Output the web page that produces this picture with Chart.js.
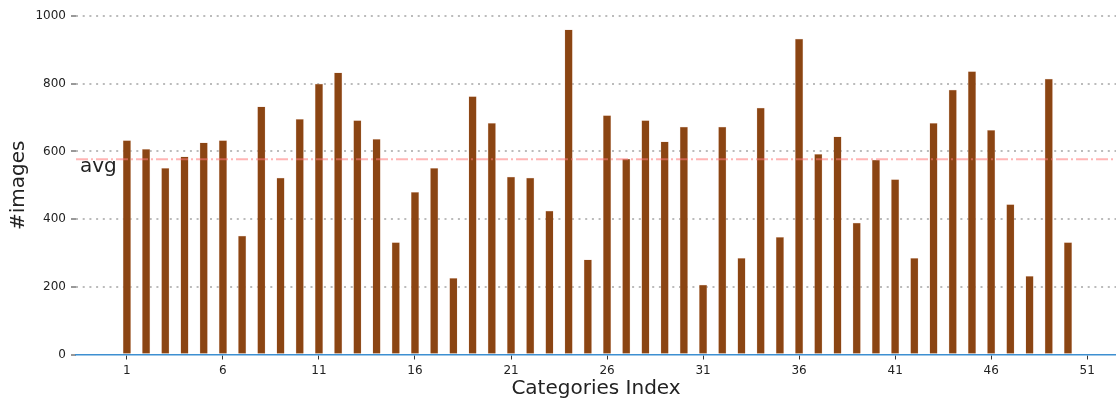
<!DOCTYPE html>
<html>
<head>
<meta charset="utf-8">
<script src="https://cdn.jsdelivr.net/npm/chart.js@4/dist/chart.umd.min.js"></script>
<style>
  html, body { margin: 0; padding: 0; background: #fff; }
  #wrap { width: 1116px; height: 401px; }
</style>
</head>
<body>
<div id="wrap"><canvas id="c" width="1116" height="401"></canvas></div>
<script>
const categories = [1,2,3,4,5,6,7,8,9,10,11,12,13,14,15,16,17,18,19,20,21,22,23,24,25,26,27,28,29,30,31,32,33,34,35,36,37,38,39,40,41,42,43,44,45,46,47,48,49,50];
const imageCounts = [632,606,550,584,625,632,350,732,521,695,799,832,691,636,331,479,550,225,762,683,524,521,424,959,280,706,577,691,628,672,205,672,284,728,346,932,591,643,388,574,517,284,683,781,836,662,443,231,814,331];
const xTickLabels = [1,6,11,16,21,26,31,36,41,46,51];
const yTickValues = [0,200,400,600,800,1000];
const xMin = -1.65, xMax = 52.5;

const avg = imageCounts.reduce((a, b) => a + b, 0) / imageCounts.length;

const FONT = "'DejaVu Sans', sans-serif";

const avgLabelPlugin = {
  id: 'avgLabel',
  afterDatasetsDraw(chart) {
    const ctx = chart.ctx;
    const y = chart.scales.y.getPixelForValue(avg);
    const x = chart.chartArea.left + 4;
    ctx.save();
    ctx.font = "20px " + FONT;
    ctx.fillStyle = '#222';
    ctx.textAlign = 'left';
    ctx.textBaseline = 'alphabetic';
    ctx.fillText('avg', x, y + 13);
    ctx.restore();
  }
};

new Chart(document.getElementById('c'), {
  data: {
    datasets: [
      {
        type: 'bar',
        data: categories.map((c, i) => ({ x: c, y: imageCounts[i] })),
        backgroundColor: '#8B4513',
        borderColor: 'rgba(215,170,145,0.6)',
        borderWidth: 0.5,
        barThickness: 7.5,
        order: 2
      },
      {
        type: 'line',
        data: [{ x: xMin, y: avg }, { x: xMax, y: avg }],
        borderColor: 'rgba(255,120,120,0.55)',
        borderWidth: 2,
        borderDash: [12, 3, 2, 3],
        pointRadius: 0,
        order: 1
      }
    ]
  },
  options: {
    responsive: false,
    devicePixelRatio: 1,
    animation: false,
    layout: { padding: { top: 16, right: 0, bottom: 0, left: 0 } },
    plugins: { legend: { display: false }, tooltip: { enabled: false } },
    scales: {
      x: {
        type: 'linear',
        min: xMin,
        max: xMax,
        offset: false,
        afterFit(scale) { scale.height = 46.5; },
        afterBuildTicks(scale) { scale.ticks = xTickLabels.map(v => ({ value: v })); },
        ticks: {
          autoSkip: false,
          maxRotation: 0,
          padding: 4,
          color: '#222',
          font: { family: FONT, size: 12 },
          callback: (v) => String(v)
        },
        grid: {
          offset: false,
          drawOnChartArea: false,
          drawTicks: true,
          tickLength: 5,
          tickColor: '#333',
          tickWidth: 1
        },
        border: { display: true, color: '#3d8fd1', width: 1.5 },
        title: {
          display: true,
          text: 'Categories Index',
          color: '#222',
          font: { family: FONT, size: 20 },
          padding: { top: 0, bottom: 0 }
        }
      },
      y: {
        type: 'linear',
        min: 0,
        max: 1000,
        afterFit(scale) { scale.width = 76; },
        afterBuildTicks(scale) { scale.ticks = yTickValues.map(v => ({ value: v })); },
        ticks: {
          padding: 5,
          color: '#222',
          font: { family: FONT, size: 12 },
          callback: (v) => String(v)
        },
        grid: {
          color: (ctx) => (ctx.tick && ctx.tick.value === 0) ? 'rgba(0,0,0,0)' : 'rgba(170,170,170,0.8)',
          lineWidth: 2,
          drawTicks: true,
          tickLength: 5,
          tickColor: '#333',
          tickWidth: 1,
          tickBorderDash: [1, 0]
        },
        border: { display: false, dash: [2, 4.7] },
        title: {
          display: true,
          text: '#images',
          color: '#222',
          font: { family: FONT, size: 20 },
          padding: { top: 7, bottom: 0 }
        }
      }
    }
  },
  plugins: [avgLabelPlugin]
});
</script>
</body>
</html>
